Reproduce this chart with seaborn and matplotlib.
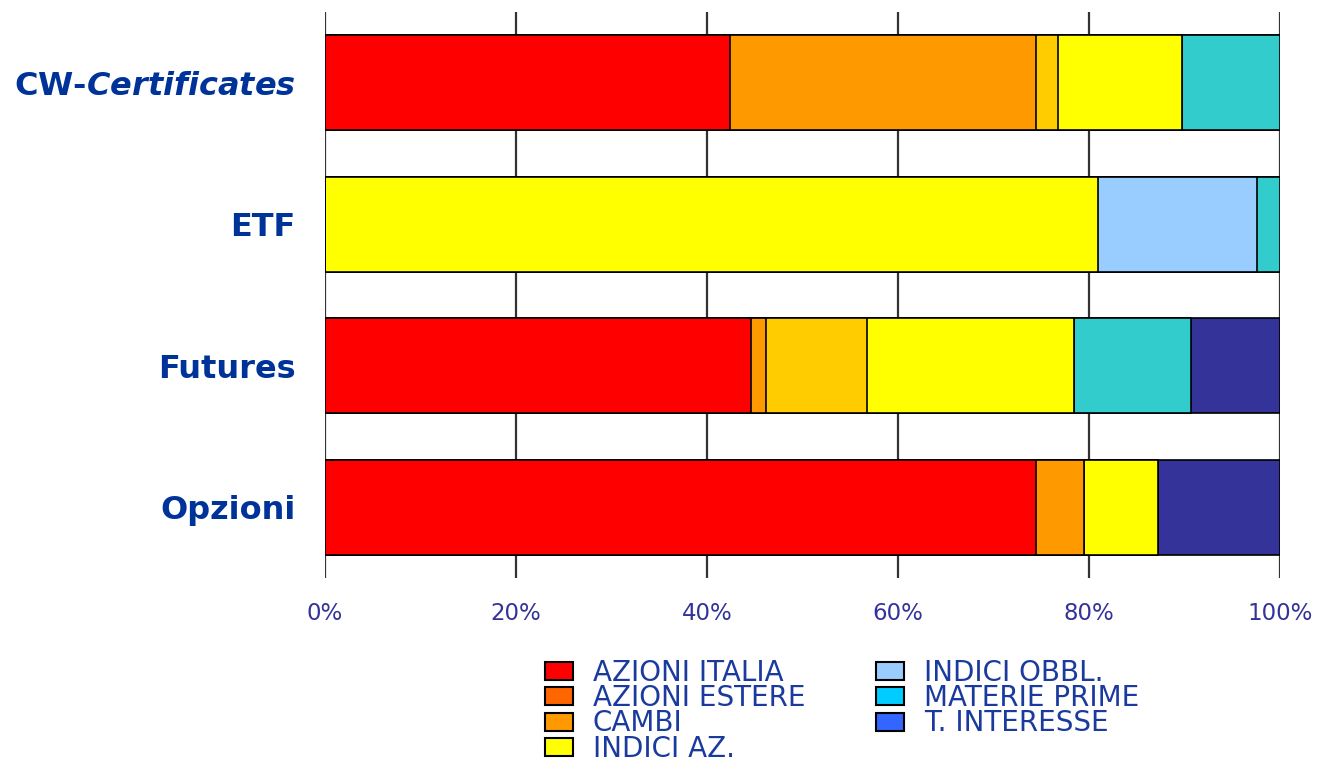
import numpy as np
import pandas as pd
import seaborn as sns
import matplotlib.pyplot as plt
from matplotlib.patches import Patch

# categories and series (percent share of each product)
categories = ["CW-Certificates", "ETF", "Futures", "Opzioni"]
tick_labels = ["CW-$\\mathbfit{Certificates}$", "ETF", "Futures", "Opzioni"]
series = ["AZIONI ITALIA", "AZIONI ESTERE", "CAMBI", "INDICI AZ.",
          "INDICI OBBL.", "MATERIE PRIME", "T. INTERESSE"]

azioni_italia = [42.4, 0.0, 44.6, 74.4]
azioni_estere = [32.0, 0.0, 1.6, 5.1]
cambi = [2.4, 0.0, 10.6, 0.0]
indici_az = [12.9, 80.9, 21.6, 7.7]
indici_obbl = [0.0, 16.7, 0.0, 0.0]
materie_prime = [10.3, 2.4, 12.3, 0.0]
t_interesse = [0.0, 0.0, 9.3, 12.8]

x_ticks = [0, 20, 40, 60, 80, 100]

bar_colors = ["#FF0000", "#FF9900", "#FFCC00", "#FFFF00", "#99CCFF", "#33CCCC", "#333399"]
legend_colors = ["#FF0000", "#FF6600", "#FF9900", "#FFFF00", "#99CCFF", "#00CCFF", "#3366FF"]

df = pd.DataFrame({
    "AZIONI ITALIA": azioni_italia,
    "AZIONI ESTERE": azioni_estere,
    "CAMBI": cambi,
    "INDICI AZ.": indici_az,
    "INDICI OBBL.": indici_obbl,
    "MATERIE PRIME": materie_prime,
    "T. INTERESSE": t_interesse,
}, index=categories)
cum = df.cumsum(axis=1)

sns.set_style("white")
plt.rcParams["font.family"] = ["DejaVu Sans"]
plt.rcParams["mathtext.fontset"] = "dejavusans"

fig = plt.figure(figsize=(13.17, 7.65), dpi=100)
ax = fig.add_axes([0.2468, 0.2444, 0.9719 - 0.2468, 0.9843 - 0.2444])

# stacked bars: draw cumulative totals from the last series backwards
for name, col in reversed(list(zip(series, bar_colors))):
    sns.barplot(x=cum[name].values, y=categories, orient="h", color=col,
                saturation=1, width=0.67, edgecolor="black", linewidth=1.2, ax=ax)

ax.set_xlim(0, 100)
ax.set_ylim(3.5, -0.5)
ax.set_xticks(x_ticks)
ax.set_xticklabels([f"{t}%" for t in x_ticks], fontsize=16.5, color="#333399")
ax.set_yticks(range(len(categories)))
ax.set_yticklabels(tick_labels, fontsize=23, fontweight="bold", color="#003399")
ax.tick_params(axis="both", length=0)
ax.tick_params(axis="x", pad=17)
ax.tick_params(axis="y", pad=21)
ax.set_xlabel("")
ax.set_ylabel("")
ax.xaxis.grid(True, color="#333333", linewidth=1.6)
ax.set_axisbelow(True)
for s in ax.spines.values():
    s.set_visible(False)

handles = [Patch(facecolor=c, edgecolor="black", linewidth=1.5) for c in legend_colors]
fig.legend(handles, series, loc="upper left", bbox_to_anchor=(545 / 1317, 1 - 659 / 765),
           ncol=2, frameon=False, fontsize=20, labelcolor="#1a3a9e",
           handlelength=1.0, handleheight=0.62, handletextpad=0.72,
           labelspacing=-0.1, columnspacing=2.55, borderpad=0, borderaxespad=0)

fig.savefig("out.png", dpi=100)
